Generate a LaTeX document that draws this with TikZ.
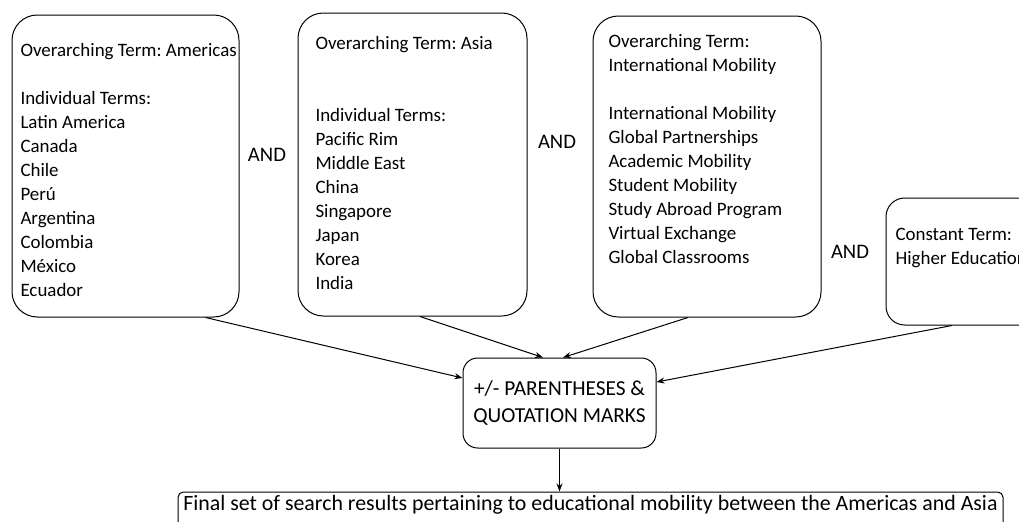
\documentclass[tikz,border=0pt]{standalone}
\usepackage{fontspec}
\setmainfont{Carlito}
\usetikzlibrary{arrows.meta,calc}
\frenchspacing

\tikzset{every picture/.style={line width=0.75pt}}

\begin{document}
\begin{tikzpicture}[x=0.75pt,y=0.75pt,yscale=-1,xscale=1,
  termbox/.style={draw, rounded corners=19pt, inner sep=0pt},
  termtext/.style={anchor=north west, inner sep=0pt, align=left, font=\fontsize{14.2}{18}\selectfont},
  andtext/.style={inner sep=0pt, font=\fontsize{15.5}{18}\selectfont},
  link/.style={-{Stealth[length=6pt,width=4.5pt]}}]
	%set diagram area 1019 x 521, cut at the right and bottom
	\clip (0,0) rectangle (1019,521);
	
	%Rounded Rect: Americas
	\node [termbox, minimum width=170.25pt, minimum height=226.5pt] (amer) at (125.5,166) {};
	%Rounded Rect: Asia
	\node [termbox, minimum width=171.75pt, minimum height=227.25pt] (asia) at (412.5,164.5) {};
	%Rounded Rect: Mobility
	\node [termbox, minimum width=171pt, minimum height=225.75pt] (mob) at (707,166.5) {};
	%Rounded Rect: Constant
	\node [termbox, rounded corners=14pt, minimum width=114pt, minimum height=95.25pt] (const) at (962,261.5) {};
	%Rounded Rect: Parentheses
	\node [draw, rounded corners=11pt, minimum width=144.75pt, minimum height=67.5pt, align=center, font=\fontsize{16}{20.5}\selectfont] (paren) at (559.5,403) {+/- PARENTHESES \&\\QUOTATION MARKS};
	%Rounded Rect: Final results
	\node [draw, rounded corners=4pt, minimum width=618.75pt, inner xsep=2pt, inner ysep=0pt, text height=13.5pt, text depth=19.5pt, font=\fontsize{16.4}{18}\selectfont] (final) at (590.5,514) {Final set of search results pertaining to educational mobility between the Americas and Asia};
	
	% Text Node
	\node [termtext] (amer-txt) at (20,43) {Overarching Term: Americas\\[18pt]Individual Terms:\\Latin America\\Canada\\Chile\\Perú\\Argentina\\Colombia\\México\\Ecuador};
	% Text Node
	\node [termtext] (asia-txt) at (315,36) {Overarching Term: Asia\\[36pt]Individual Terms:\\Pacific Rim\\Middle East\\China\\Singapore\\Japan\\Korea\\India};
	% Text Node
	\node [termtext] (mob-txt) at (608,34) {Overarching Term:\\International Mobility\\[18pt]International Mobility\\Global Partnerships\\Academic Mobility\\Student Mobility\\Study Abroad Program\\Virtual Exchange\\Global Classrooms};
	% Text Node
	\node [termtext] (const-txt) at (895,228) {Constant Term:\\Higher Education};
	
	% Text Node
	\node [andtext] (and1) at (267,155) {AND};
	% Text Node
	\node [andtext] (and2) at (557,142) {AND};
	% Text Node
	\node [andtext] (and3) at (850,252) {AND};
	
	%Straight Lines
	\draw [link] ($(amer.south)+(80,0)$) -- ($(paren.west)+(0,-25)$);
	\draw [link] ($(asia.south)+(7.5,0)$) -- ($(paren.north)+(-16.5,0)$);
	\draw [link] ($(mob.south)+(-19,0)$) -- ($(paren.north)+(3.5,0)$);
	\draw [link] ($(const.south)+(-10,0)$) -- ($(paren.east)+(0,-21)$);
	\draw [link] (paren.south) -- (paren.south |- final.north);
	
\end{tikzpicture}
\end{document}
